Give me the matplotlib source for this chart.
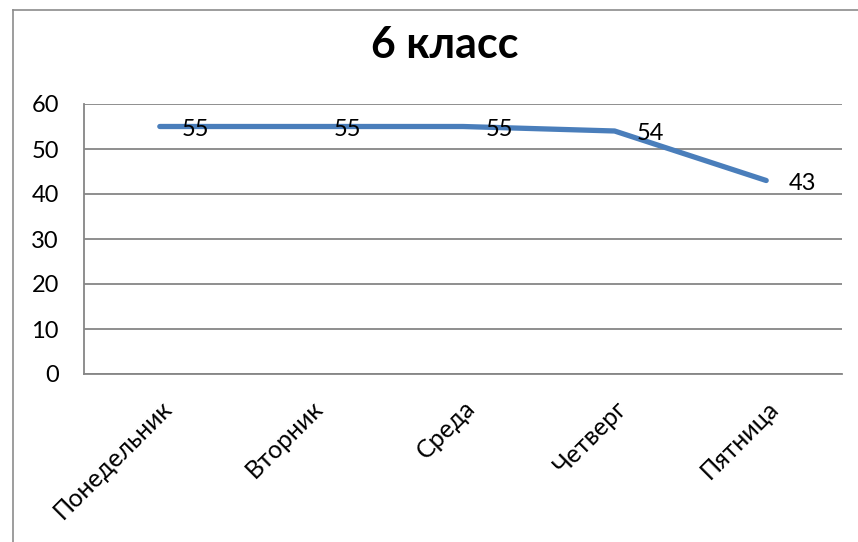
import matplotlib
matplotlib.use("Agg")
import matplotlib.pyplot as plt
from matplotlib.lines import Line2D

plt.rcParams['font.family'] = ['Lato', 'DejaVu Sans']

categories = ["Понедельник", "Вторник", "Среда", "Четверг", "Пятница"]
values = [55, 55, 55, 54, 43]
title = "6 класс"

W, H = 858, 542
fig = plt.figure(figsize=(W / 100, H / 100), dpi=100)

# chart frame (partially cropped: left and top edges visible)
fig.add_artist(Line2D([13 / W, 13 / W], [0, 1 - 10 / H], transform=fig.transFigure, color="#8c8c8c", lw=1.2))
fig.add_artist(Line2D([13 / W, 1], [1 - 10 / H, 1 - 10 / H], transform=fig.transFigure, color="#8c8c8c", lw=1.2))

ax = fig.add_axes([84 / W, (H - 374) / H, 758 / W, 270 / H])
x = list(range(len(categories)))
ax.plot(x, values, color="#4A7EBB", lw=3.8, solid_capstyle="round", solid_joinstyle="round", zorder=3)

for xi, v in zip(x, values):
    ax.annotate(str(v), (xi, v), xytext=(16, -2), textcoords="offset points",
                ha="left", va="center", fontsize=17, color="black", zorder=4)

ax.set_xlim(-0.5, len(categories) - 0.5)
ax.set_ylim(0, 60)
ax.set_yticks(range(0, 61, 10))
ax.set_xticks(x)
ax.set_xticklabels(categories, rotation=45, ha="right", va="top", rotation_mode="anchor", fontsize=18)
ax.tick_params(axis="y", length=0, pad=18, labelsize=17)
ax.tick_params(axis="x", length=0, pad=16)
ax.grid(axis="y", color="#868686", lw=1.3)
ax.set_axisbelow(True)
for s in ["top", "right"]:
    ax.spines[s].set_visible(False)
for s in ["left", "bottom"]:
    ax.spines[s].set_color("#868686")
    ax.spines[s].set_linewidth(1.3)

fig.text(445 / W, 1 - 45 / H, title, ha="center", va="center", fontsize=31, fontweight="bold")

fig.savefig("out.png", dpi=100)
